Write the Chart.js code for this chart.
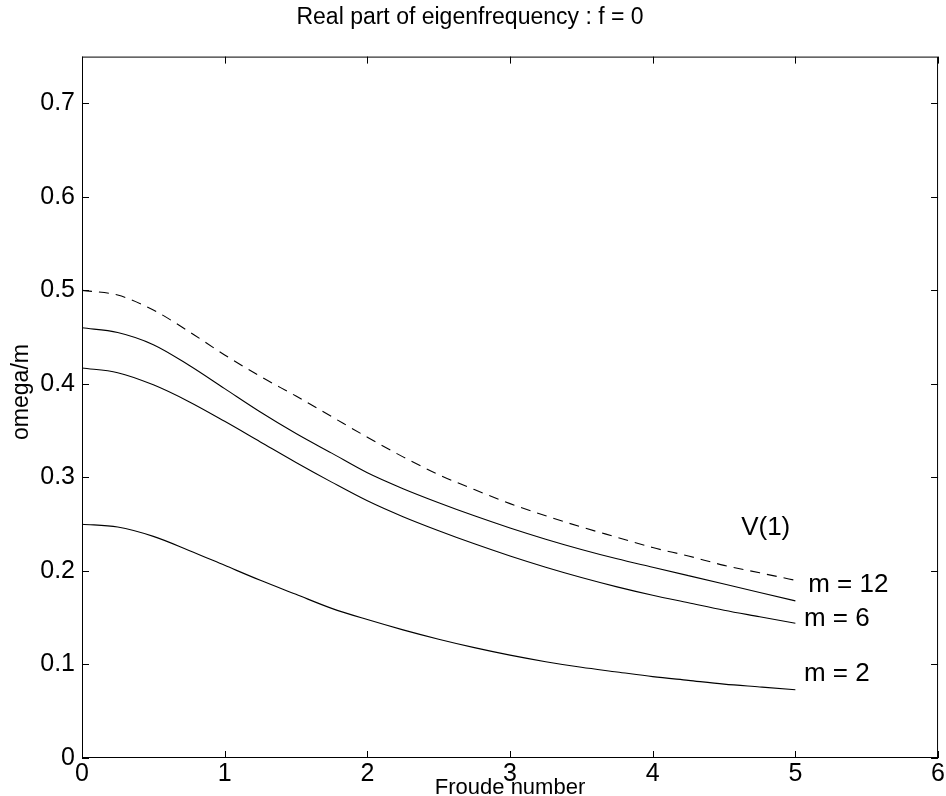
<!DOCTYPE html>
<html>
<head>
<meta charset="utf-8">
<script src="https://cdn.jsdelivr.net/npm/chart.js@4.4.0/dist/chart.umd.min.js"></script>
<style>
  html, body { margin: 0; padding: 0; background: #fff; }
  #c { display: block; }
</style>
</head>
<body>
<canvas id="c" width="946" height="796"></canvas>
<script>
// Froude number sampled every 0.25
var froude = [0, 0.25, 0.5, 0.75, 1, 1.25, 1.5, 1.75, 2, 2.25, 2.5, 2.75, 3, 3.25, 3.5, 3.75, 4, 4.25, 4.5, 4.75, 5];

// omega/m
var v1  = [0.500, 0.495, 0.479, 0.456, 0.431, 0.408, 0.387, 0.365, 0.343, 0.322, 0.303, 0.287, 0.272, 0.259, 0.247, 0.236, 0.225, 0.216, 0.206, 0.198, 0.190];
var m12 = [0.460, 0.455, 0.442, 0.420, 0.395, 0.370, 0.347, 0.326, 0.305, 0.288, 0.273, 0.259, 0.246, 0.234, 0.223, 0.213, 0.204, 0.195, 0.186, 0.177, 0.168];
var m6  = [0.417, 0.412, 0.399, 0.381, 0.360, 0.338, 0.316, 0.295, 0.275, 0.258, 0.243, 0.229, 0.216, 0.204, 0.193, 0.183, 0.174, 0.166, 0.158, 0.151, 0.144];
var m2  = [0.250, 0.247, 0.237, 0.222, 0.206, 0.190, 0.175, 0.160, 0.148, 0.137, 0.127, 0.118, 0.110, 0.103, 0.097, 0.092, 0.087, 0.083, 0.079, 0.076, 0.073];

var xTicks = [0, 1, 2, 3, 4, 5, 6];
var yTicks = [0, 0.1, 0.2, 0.3, 0.4, 0.5, 0.6, 0.7];

// curve labels: text, x, y (data units, left edge / middle)
var curveLabels = [
    ['V(1)', 4.62, 0.246],
    ['m = 12', 5.09, 0.185],
    ['m = 6', 5.06, 0.149],
    ['m = 2', 5.06, 0.09]
];

var FONT = "'Liberation Sans', Arial, Helvetica, sans-serif";

function pts(ys) {
    return froude.map(function (x, i) { return { x: x, y: ys[i] }; });
}

function serie(label, ys, dash) {
    return {
        label: label,
        data: pts(ys),
        borderColor: '#000',
        borderWidth: 1.1,
        borderDash: dash || [],
        pointRadius: 0,
        fill: false,
        cubicInterpolationMode: 'monotone'
    };
}

// box, inward ticks, axis titles and curve labels
var decor = {
    id: 'decor',
    afterDraw: function (chart) {
        var ctx = chart.ctx;
        var a = chart.chartArea;
        var sx = chart.scales.x, sy = chart.scales.y;
        ctx.save();
        ctx.strokeStyle = '#000';
        ctx.lineWidth = 1;
        ctx.strokeRect(a.left + 0.5, a.top + 0.5, a.right - a.left - 1, a.bottom - a.top - 1);

        ctx.beginPath();
        xTicks.forEach(function (v) {
            var px = Math.round(sx.getPixelForValue(v)) + 0.5;
            ctx.moveTo(px, a.bottom); ctx.lineTo(px, a.bottom - 7);
            ctx.moveTo(px, a.top); ctx.lineTo(px, a.top + 7);
        });
        yTicks.forEach(function (v) {
            var py = Math.round(sy.getPixelForValue(v)) + 0.5;
            ctx.moveTo(a.left, py); ctx.lineTo(a.left + 7, py);
            ctx.moveTo(a.right, py); ctx.lineTo(a.right - 7, py);
        });
        ctx.stroke();

        ctx.fillStyle = '#000';
        ctx.textAlign = 'center';
        ctx.textBaseline = 'middle';
        ctx.font = '22px ' + FONT;
        ctx.fillText('Froude number', (a.left + a.right) / 2, 788);

        ctx.save();
        ctx.font = '23px ' + FONT;
        ctx.translate(22, 392);
        ctx.rotate(-Math.PI / 2);
        ctx.fillText('omega/m', 0, 0);
        ctx.restore();

        ctx.textAlign = 'left';
        ctx.font = '26px ' + FONT;
        curveLabels.forEach(function (l) {
            ctx.fillText(l[0], sx.getPixelForValue(l[1]), sy.getPixelForValue(l[2]));
        });
        ctx.restore();
    }
};

var config = {
    type: 'line',
    data: {
        datasets: [
            serie('V(1)', v1, [10, 7]),
            serie('m = 12', m12),
            serie('m = 6', m6),
            serie('m = 2', m2)
        ]
    },
    options: {
        responsive: false,
        animation: false,
        events: [],
        layout: { padding: { left: 0, right: 6, top: 0, bottom: 0 } },
        plugins: {
            legend: { display: false },
            tooltip: { enabled: false },
            title: {
                display: true,
                text: 'Real part of eigenfrequency : f = 0',
                color: '#000',
                font: { family: FONT, size: 23, weight: 'normal' },
                padding: { top: 4, bottom: 25 }
            }
        },
        scales: {
            x: {
                type: 'linear',
                min: 0,
                max: 6,
                grid: { display: false, drawTicks: false },
                border: { display: false },
                ticks: {
                    stepSize: 1,
                    color: '#000',
                    padding: 1,
                    maxRotation: 0,
                    font: { family: FONT, size: 25 }
                },
                afterFit: function (s) { s.height = 38; }
            },
            y: {
                type: 'linear',
                min: 0,
                max: 0.75,
                grid: { display: false, drawTicks: false },
                border: { display: false },
                afterBuildTicks: function (s) {
                    s.ticks = yTicks.map(function (v) { return { value: v }; });
                },
                ticks: {
                    color: '#000',
                    padding: 7,
                    font: { family: FONT, size: 25 },
                    callback: function (v) { return v === 0 ? '0' : v.toFixed(1); }
                },
                afterFit: function (s) { s.width = 82; }
            }
        }
    },
    plugins: [decor]
};

new Chart(document.getElementById('c').getContext('2d'), config);
</script>
</body>
</html>
